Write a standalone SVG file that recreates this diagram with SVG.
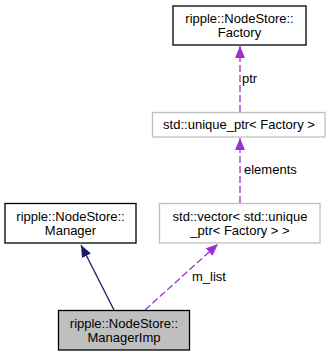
<svg xmlns="http://www.w3.org/2000/svg" width="333" height="357" viewBox="0 0 333 357">
<style>
  text { font-family: "Liberation Sans", Arial, sans-serif; font-size: 13px; fill: #000; }
  .c { text-anchor: middle; }
  .box { fill: #fff; stroke: #000; stroke-width: 1.3; }
  .ext { fill: #fff; stroke: #bfbfbf; stroke-width: 1.3; }
  .cur { fill: #bfbfbf; stroke: #000; stroke-width: 1.3; }
  .inh { fill: none; stroke: #191970; stroke-width: 1.3; }
  .use { fill: none; stroke: #9a32cd; stroke-width: 1.3; stroke-dasharray: 7,3; }
</style>
<defs>
  <marker id="arrInh" viewBox="0 0 12 10" refX="12" refY="5" markerWidth="12" markerHeight="10" markerUnits="userSpaceOnUse" orient="auto">
    <path d="M0,0 L12,5 L0,10 Z" fill="#191970"/>
  </marker>
  <marker id="arrUse" viewBox="0 0 12 10" refX="12" refY="5" markerWidth="12" markerHeight="10" markerUnits="userSpaceOnUse" orient="auto">
    <path d="M0,0 L12,5 L0,10 Z" fill="#9a32cd"/>
  </marker>
</defs>
<rect width="333" height="357" fill="#fff"/>

<g id="edges">
  <!-- inheritance: ManagerImp -> Manager -->
  <path class="inh" d="M114,310 L81,245" marker-end="url(#arrInh)"/>
  <!-- usage: ManagerImp -> vector -->
  <path class="use" d="M145,310 L218,244" marker-end="url(#arrUse)"/>
  <text x="192" y="281">m_list</text>
  <!-- usage: vector -> unique_ptr -->
  <path class="use" d="M240,203 L240,138" marker-end="url(#arrUse)"/>
  <text x="244" y="174">elements</text>
  <!-- usage: unique_ptr -> Factory -->
  <path class="use" d="M240,112 L240,46" marker-end="url(#arrUse)"/>
  <text x="242" y="83">ptr</text>
</g>

<g id="node_factory">
  <rect class="box" x="173" y="6" width="133" height="39"/>
  <text class="c" x="239.5" y="23">ripple::NodeStore::</text>
  <text class="c" x="239.5" y="37">Factory</text>
</g>

<g id="node_unique_ptr">
  <rect class="ext" x="152.5" y="112.5" width="172.5" height="24.5"/>
  <text class="c" x="239" y="129">std::unique_ptr&lt; Factory &gt;</text>
</g>

<g id="node_vector">
  <rect class="ext" x="159.5" y="203.5" width="160.5" height="39.5"/>
  <text class="c" x="240" y="220.5">std::vector&lt; std::unique</text>
  <text class="c" x="240" y="234.5">_ptr&lt; Factory &gt; &gt;</text>
</g>

<g id="node_manager">
  <rect class="box" x="5" y="203.5" width="131" height="39.5"/>
  <text class="c" x="70.5" y="220.5">ripple::NodeStore::</text>
  <text class="c" x="70.5" y="234.5">Manager</text>
</g>

<g id="node_managerimp">
  <rect class="cur" x="58.5" y="310.5" width="131" height="39.5"/>
  <text class="c" x="124" y="327.5">ripple::NodeStore::</text>
  <text class="c" x="124" y="341.5">ManagerImp</text>
</g>
</svg>
